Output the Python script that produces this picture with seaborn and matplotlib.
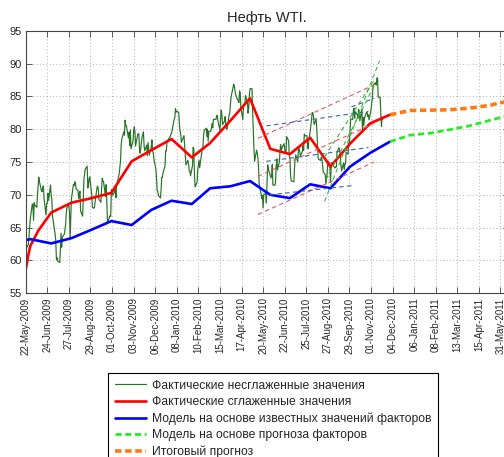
import pandas as pd
import seaborn as sns
import matplotlib
matplotlib.use("Agg")
import matplotlib.pyplot as plt

# trading-day holidays (used to lay the daily prices on the calendar)
holidays = ["2009-05-25", "2009-07-03", "2009-09-07", "2009-11-26", "2009-12-25",
            "2010-01-01", "2010-01-18", "2010-02-15", "2010-04-02", "2010-05-31",
            "2010-07-05", "2010-09-06"]

# daily WTI, 22-May-2009 .. 19-Nov-2010
wti_raw = [
    61.67, 62.45, 63.45, 65.08, 66.31,
    68.58, 68.55, 66.12, 68.81, 68.44, 68.09, 70.01, 71.33, 72.68, 72.04, 70.62,
    70.47, 71.03, 71.37, 69.55, 66.93, 68.67, 68.67, 70.23, 69.16, 71.49, 69.89,
    69.31, 66.73, 64.05, 62.93, 60.14, 60.41, 59.89, 59.69, 61.54, 64.15, 62.02,
    63.56, 63.98, 64.72, 65.40, 67.20, 68.05, 68.38, 67.23, 63.35, 66.94, 69.45,
    71.58, 71.42, 71.97, 71.94, 70.93, 70.60, 69.45, 70.16, 70.52, 67.51, 66.75,
    69.19, 72.42, 73.09, 73.89, 74.37, 71.05, 71.43, 72.49, 72.74, 69.96,
    68.05, 68.05, 67.96, 68.02, 71.10, 71.31, 70.94, 69.29, 68.86, 70.93, 72.51,
    72.04, 72.04, 69.71, 71.55, 68.97, 65.89, 66.02, 66.84, 66.71, 70.61,
    70.82, 69.95, 70.41, 70.88, 69.57, 71.69, 71.77, 73.27, 74.15, 75.18, 77.58,
    78.53, 79.61, 79.09, 81.37, 80.50, 80.50, 78.68, 79.55, 77.46, 79.87, 77.00,
    78.13, 79.60, 80.40, 79.62, 77.43, 79.05, 79.32, 79.28, 76.94, 76.35, 78.90,
    79.14, 79.58, 77.46, 76.72, 77.56, 76.02, 77.96, 76.05, 77.28,
    78.37, 76.60, 76.46, 75.47, 73.93, 72.62, 70.67, 70.54, 69.87, 69.51, 70.69,
    72.66, 72.66, 73.36, 74.40, 76.67, 76.67, 78.05, 78.77, 78.87, 79.28, 79.36,
    81.52, 81.74, 83.12, 82.60, 82.74, 82.54, 80.79, 79.66, 79.35, 78.00, 79.02,
    77.62, 76.08, 74.54, 75.26, 74.71, 73.67, 73.64, 72.89,
    74.43, 77.23, 76.98, 73.14, 71.19, 71.89, 73.75, 74.52, 75.28, 74.13, 77.01,
    77.33, 79.06, 79.81, 80.16, 78.86, 80.00, 78.17, 79.66,
    79.70, 80.22, 80.87, 80.21, 81.50, 81.49, 81.49, 82.09, 82.09, 81.24, 79.80,
    81.70, 82.93, 82.20, 80.68, 81.25, 81.91, 80.31, 80.00, 80.00, 82.17, 82.37, 83.76,
    84.87, 86.84, 86.62, 85.88, 85.31, 84.92, 84.34, 84.05, 85.84, 85.51, 83.24,
    81.45, 83.45, 83.68, 83.70, 85.12, 84.20, 82.44, 83.22, 85.17, 86.15,
    86.19, 82.74, 79.97, 77.11, 75.11, 76.80, 76.37, 75.65, 74.33, 71.61, 70.08,
    69.41, 69.87, 68.01, 70.04, 70.21, 68.75, 71.51, 74.55, 73.97,
    72.58, 72.86, 74.61, 71.51, 71.44, 71.99, 74.38, 75.48, 73.78, 75.12, 76.94,
    77.67, 76.79, 77.18, 77.79, 77.12, 76.35, 76.51, 78.86, 78.26, 75.94, 75.63,
    72.95, 72.14, 71.98, 74.07, 75.45, 76.09, 75.00, 77.03, 77.04, 76.62, 75.95,
    76.54, 77.43, 76.79, 79.27, 78.99, 79.00, 77.50, 77.00, 78.36, 78.95,
    81.34, 82.55, 82.49, 82.01, 80.70, 81.48, 80.25, 78.02, 75.74, 75.39, 75.24,
    75.77, 75.42, 74.43, 73.46, 73.10, 71.63, 72.52, 73.36, 75.17, 74.70, 71.92,
    73.91, 74.91, 74.60, 74.09, 74.25, 74.25, 76.45, 77.19, 76.80, 76.02, 74.57,
    73.66, 74.86, 73.86, 74.71, 74.71, 76.49, 76.18, 77.86, 77.86, 79.97,
    81.58, 81.47, 82.82, 83.23, 81.67, 82.66, 82.21, 81.67, 83.01, 82.69, 81.25,
    83.08, 79.49, 81.77, 80.56, 81.69, 82.52, 82.55, 81.94, 82.18, 81.43,
    82.95, 83.90, 84.69, 86.49, 86.85, 87.06, 86.72, 87.81, 87.81, 84.88, 84.86,
    82.34, 80.44, 81.85, 81.51,
]

smooth_dates = ["2009-05-22", "2009-05-26", "2009-05-29", "2009-06-10", "2009-06-30",
                "2009-07-31", "2009-08-31", "2009-09-30", "2009-10-31", "2009-11-30",
                "2009-12-31", "2010-01-31", "2010-02-28", "2010-03-31", "2010-04-30",
                "2010-05-31", "2010-06-30", "2010-07-31", "2010-08-31", "2010-09-30",
                "2010-10-31", "2010-11-30"]
smooth_vals = [58.6, 60.8, 62.2, 64.5, 67.3, 68.8, 69.5, 70.3, 75.1, 76.8, 78.5,
               75.7, 77.9, 81.3, 84.7, 77.0, 76.2, 78.7, 74.3, 77.8, 80.9, 82.2]

model_dates = ["2009-05-22", "2009-05-29", "2009-06-30", "2009-07-31", "2009-08-31",
               "2009-09-30", "2009-10-31", "2009-11-30", "2009-12-31", "2010-01-31",
               "2010-02-28", "2010-03-31", "2010-04-30", "2010-05-31", "2010-06-30",
               "2010-07-31", "2010-08-31", "2010-09-30", "2010-10-31", "2010-11-30"]
model_vals = [63.1, 63.25, 62.6, 63.4, 64.7, 66.0, 65.4, 67.7, 69.1, 68.6, 71.0,
              71.3, 72.1, 70.0, 69.5, 71.6, 71.0, 74.3, 76.4, 78.1]

fc_dates = ["2010-11-30", "2010-12-31", "2011-01-31", "2011-02-28", "2011-03-31",
            "2011-04-30", "2011-05-31"]
fc_factor_vals = [78.1, 79.1, 79.4, 79.9, 80.5, 81.3, 82.1]
fc_total_vals = [82.2, 82.85, 82.9, 82.95, 83.2, 83.6, 84.3]

# trend channels: [start date, end date], [start value, end value]
chan_red = [(["2010-05-12", "2010-11-09"], [78.6, 86.9]),
            (["2010-05-12", "2010-11-06"], [72.8, 80.9]),
            (["2010-05-12", "2010-11-06"], [67.0, 75.0])]
chan_blue = [(["2010-05-25", "2010-10-28"], [80.5, 82.7]),
             (["2010-05-25", "2010-10-28"], [75.1, 77.2]),
             (["2010-05-30", "2010-10-03"], [70.0, 71.4]),
             (["2010-10-02", "2010-11-06"], [83.4, 84.7])]
chan_green = [(["2010-08-22", "2010-11-14"], [69.0, 90.4]),
              (["2010-08-24", "2010-11-08"], [72.3, 87.0]),
              (["2010-08-22", "2010-11-06"], [75.8, 87.5])]

tick_labels = ["22-May-2009", "24-Jun-2009", "27-Jul-2009", "29-Aug-2009", "01-Oct-2009",
               "03-Nov-2009", "06-Dec-2009", "08-Jan-2010", "10-Feb-2010", "15-Mar-2010",
               "17-Apr-2010", "20-May-2010", "22-Jun-2010", "25-Jul-2010", "27-Aug-2010",
               "29-Sep-2010", "01-Nov-2010", "04-Dec-2010", "06-Jan-2011", "08-Feb-2011",
               "13-Mar-2011", "15-Apr-2011", "31-May-2011"]
tick_dates = pd.date_range("2009-05-22", periods=len(tick_labels), freq="33D")

legend_labels = ["Фактические несглаженные значения",
                 "Фактические сглаженные значения",
                 "Модель на основе известных значений факторов",
                 "Модель на основе прогноза факторов",
                 "Итоговый прогноз"]

sns.set_style("ticks")
plt.rcParams["font.family"] = ["Liberation Sans", "DejaVu Sans"]

raw_dates = pd.bdate_range("2009-05-22", periods=len(wti_raw), freq="C", holidays=holidays)

fig = plt.figure(figsize=(5.04, 4.57), dpi=100)
ax = fig.add_axes([25.7 / 504, (457 - 293.3) / 457, (509 - 25.7) / 504, 262.6 / 457])

sns.lineplot(x=raw_dates, y=wti_raw, ax=ax, color="#267326", lw=0.85, label=legend_labels[0])
sns.lineplot(x=pd.to_datetime(smooth_dates), y=smooth_vals, ax=ax, color="#ff0000", lw=1.9,
             label=legend_labels[1])
sns.lineplot(x=pd.to_datetime(model_dates), y=model_vals, ax=ax, color="#0000ff", lw=1.9,
             label=legend_labels[2])
sns.lineplot(x=pd.to_datetime(fc_dates), y=fc_factor_vals, ax=ax, color="#22ee22", lw=2.0,
             linestyle=(0, (2.2, 1.3)), label=legend_labels[3])
sns.lineplot(x=pd.to_datetime(fc_dates), y=fc_total_vals, ax=ax, color="#ff7a10", lw=2.6,
             linestyle=(0, (1.8, 1.0)), label=legend_labels[4])

for chans, col in [(chan_red, "#e8585a"), (chan_blue, "#3565a5"), (chan_green, "#3cb83c")]:
    for xs, ys in chans:
        sns.lineplot(x=pd.to_datetime(xs), y=ys, ax=ax, color=col, lw=0.8,
                     linestyle=(0, (4, 3)))

handles, labels = ax.get_legend_handles_labels()
if ax.get_legend() is not None:
    ax.get_legend().remove()

ax.set_xlim(pd.Timestamp("2009-05-22"), pd.Timestamp("2011-05-31"))
ax.set_ylim(55, 95)
ax.set_yticks(range(55, 96, 5))
ax.set_xticks(tick_dates)
ax.set_xticklabels(tick_labels, rotation=90)
ax.tick_params(direction="in", top=True, right=True, length=4, width=0.6,
               color="#444444", labelsize=7, pad=3)
ax.tick_params(axis="y", labelsize=8)
ax.grid(True, linestyle=(0, (1, 3)), color="#9a9a9a", lw=0.6)
for s in ax.spines.values():
    s.set_color("#444444")
    s.set_linewidth(0.8)
ax.set_xlabel("")
ax.set_ylabel("")
ax.set_title("Нефть WTI.", fontsize=10.5, pad=6)

leg = fig.legend(handles[:5], labels[:5], loc="upper left",
                 bbox_to_anchor=(108 / 504, 1 - 373 / 457), fontsize=8.7,
                 fancybox=False, edgecolor="black", framealpha=1,
                 handlelength=2.6, handletextpad=0.45, labelspacing=0.36,
                 borderpad=0.55, borderaxespad=0)
leg.get_frame().set_linewidth(0.8)

fig.savefig("out.png", dpi=100)
